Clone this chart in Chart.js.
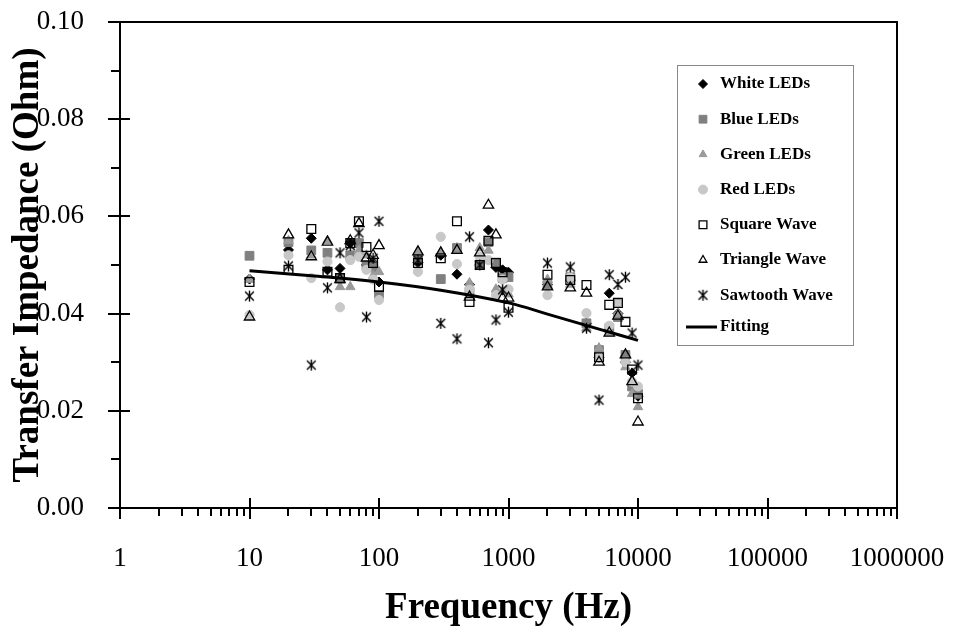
<!DOCTYPE html>
<html lang="en-US">
<head>
  <meta charset="utf-8">
  <title>Transfer impedance vs frequency</title>
  <script src="https://cdn.jsdelivr.net/npm/chart.js@4.4.0/dist/chart.umd.min.js"></script>
  <style>
    html, body { margin: 0; padding: 0; background: #fff; }
    .wrapper { width: 958px; height: 631px; }
  </style>
</head>
<body>
  <div class="wrapper">
    <canvas id="chart-0" width="958" height="631"></canvas>
  </div>

  <script>

    // measurement frequencies (Hz)
    let freqs = [10, 20, 30, 40, 50, 60, 70, 80, 90,
                 100, 200, 300, 400, 500, 600, 700, 800, 900,
                 1000, 2000, 3000, 4000, 5000, 6000, 7000, 8000, 9000, 10000];

    let whiteLeds = [0.0471, 0.0531, 0.0555, 0.0490, 0.0493, 0.0545, 0.0520, 0.0500, 0.0500,
                     0.0465, 0.0505, 0.0520, 0.0481, 0.0460, 0.0500, 0.0572, 0.0495, 0.0490,
                     0.0485, 0.0460, 0.0469, 0.0380, 0.0310, 0.0442, 0.0400, 0.0300, 0.0278, 0.0230];
    let blueLeds = [0.0519, 0.0547, 0.0530, 0.0525, 0.0473, 0.0520, 0.0545, 0.0500, 0.0495,
                    0.0438, 0.0514, 0.0471, 0.0535, 0.0445, 0.0500, 0.0547, 0.0505, 0.0473,
                    0.0475, 0.0459, 0.0475, 0.0380, 0.0325, 0.0370, 0.0393, 0.0315, 0.0250, 0.0235];
    let greenLeds = [0.0470, 0.0550, 0.0520, 0.0550, 0.0455, 0.0455, 0.0530, 0.0520, 0.0478,
                     0.0486, 0.0527, 0.0525, 0.0535, 0.0463, 0.0535, 0.0530, 0.0450, 0.0445,
                     0.0440, 0.0470, 0.0460, 0.0370, 0.0329, 0.0360, 0.0400, 0.0290, 0.0235, 0.0208];
    let redLeds = [0.0397, 0.0520, 0.0473, 0.0507, 0.0413, 0.0510, 0.0517, 0.0490, 0.0470,
                   0.0428, 0.0486, 0.0558, 0.0502, 0.0449, 0.0517, 0.0510, 0.0438, 0.0470,
                   0.0450, 0.0438, 0.0475, 0.0401, 0.0310, 0.0375, 0.0422, 0.0300, 0.0260, 0.0250];
    let squareWave = [0.0465, 0.0490, 0.0574, 0.0486, 0.0473, 0.0545, 0.0590, 0.0537, 0.0504,
                      0.0455, 0.0504, 0.0514, 0.0590, 0.0424, 0.0500, 0.0550, 0.0504, 0.0485,
                      0.0412, 0.0480, 0.0469, 0.0459, 0.0310, 0.0418, 0.0422, 0.0383, 0.0285, 0.0226];
    let triangleWave = [0.0393, 0.0562, 0.0517, 0.0547, 0.0470, 0.0550, 0.0585, 0.0514, 0.0520,
                        0.0540, 0.0527, 0.0525, 0.0530, 0.0434, 0.0525, 0.0623, 0.0562, 0.0432,
                        0.0432, 0.0455, 0.0453, 0.0442, 0.0300, 0.0360, 0.0395, 0.0315, 0.0260, 0.0177];
    let sawtoothWave = [0.0436, 0.0498, 0.0294, 0.0453, 0.0525, 0.0540, 0.0566, 0.0393, 0.0514,
                        0.0590, 0.0510, 0.0380, 0.0348, 0.0558, 0.0500, 0.0340, 0.0387, 0.0449,
                        0.0403, 0.0504, 0.0496, 0.0370, 0.0222, 0.0480, 0.0460, 0.0475, 0.0360, 0.0294];

    let fitFreqs = [10, 30, 100, 300, 1000, 2000, 5000, 10000];
    let fitValues = [0.0488, 0.0478, 0.0465, 0.0448, 0.0422, 0.0399, 0.0368, 0.0345];

    let xTicks = [1, 10, 100, 1000, 10000, 100000, 1000000];
    let yTicks = [0, 0.02, 0.04, 0.06, 0.08, 0.10];

    function pairs(xs, ys) {
      return xs.map((x, i) => ({x: x, y: ys[i]}));
    }

    // six-armed asterisk used for the sawtooth series
    function asterisk(size) {
      let c = document.createElement('canvas');
      c.width = size; c.height = size;
      let g = c.getContext('2d');
      let m = size / 2, r = size / 2 - 1;
      g.strokeStyle = '#000';
      g.lineWidth = 1.4;
      g.beginPath();
      g.moveTo(m - r * 0.8, m - r * 0.8); g.lineTo(m + r * 0.8, m + r * 0.8);
      g.moveTo(m + r * 0.8, m - r * 0.8); g.lineTo(m - r * 0.8, m + r * 0.8);
      g.moveTo(m, m - r); g.lineTo(m, m + r);
      g.stroke();
      return c;
    }

    let serif = 'Liberation Serif, Times New Roman, serif';

    let datasets = [
      {label: 'White LEDs', data: pairs(freqs, whiteLeds), pointStyle: 'rectRot', pointRadius: 5,
       backgroundColor: '#000', borderColor: '#000', borderWidth: 1, order: 7},
      {label: 'Blue LEDs', data: pairs(freqs, blueLeds), pointStyle: 'rect', pointRadius: 6.2,
       backgroundColor: '#808080', borderColor: '#808080', borderWidth: 1, order: 6},
      {label: 'Green LEDs', data: pairs(freqs, greenLeds), pointStyle: 'triangle', pointRadius: 5.5,
       backgroundColor: '#9a9a9a', borderColor: '#9a9a9a', borderWidth: 1, order: 5},
      {label: 'Red LEDs', data: pairs(freqs, redLeds), pointStyle: 'circle', pointRadius: 4.6,
       backgroundColor: '#c8c8c8', borderColor: '#c8c8c8', borderWidth: 1, order: 4},
      {label: 'Square Wave', data: pairs(freqs, squareWave), pointStyle: 'rect', pointRadius: 6.2,
       backgroundColor: 'rgba(255,255,255,0)', borderColor: '#000', borderWidth: 1.3, order: 3},
      {label: 'Triangle Wave', data: pairs(freqs, triangleWave), pointStyle: 'triangle', pointRadius: 6,
       backgroundColor: 'rgba(255,255,255,0)', borderColor: '#000', borderWidth: 1.3, order: 2},
      {label: 'Sawtooth Wave', data: pairs(freqs, sawtoothWave), pointStyle: asterisk(13), pointRadius: 6,
       backgroundColor: '#000', borderColor: '#000', order: 1},
      {label: 'Fitting', type: 'line', data: pairs(fitFreqs, fitValues), showLine: true,
       borderColor: '#000', borderWidth: 3, pointRadius: 0, fill: false, tension: 0.4, order: 0}
    ];

    // box, crossing major ticks and outside minor ticks like the original plot
    let framePlugin = {
      id: 'frame',
      afterDatasetsDraw(chart) {
        let ctx = chart.ctx, a = chart.chartArea;
        let xs = chart.scales.x, ys = chart.scales.y;
        ctx.save();
        ctx.strokeStyle = '#000';
        ctx.lineWidth = 2;
        ctx.strokeRect(a.left, a.top, a.right - a.left, a.bottom - a.top);
        ctx.beginPath();
        yTicks.forEach(v => {
          let p = Math.round(ys.getPixelForValue(v));
          ctx.moveTo(a.left - 12, p); ctx.lineTo(a.left + 10, p);
        });
        for (let i = 0; i < yTicks.length - 1; i++) {
          let p = Math.round(ys.getPixelForValue((yTicks[i] + yTicks[i + 1]) / 2));
          ctx.moveTo(a.left - 9, p); ctx.lineTo(a.left, p);
        }
        xTicks.forEach((v, i) => {
          let p = Math.round(xs.getPixelForValue(v));
          ctx.moveTo(p, a.bottom - 10); ctx.lineTo(p, a.bottom + 11);
          if (i < xTicks.length - 1) {
            for (let k = 2; k <= 9; k++) {
              let q = Math.round(xs.getPixelForValue(v * k));
              ctx.moveTo(q, a.bottom); ctx.lineTo(q, a.bottom + 8);
            }
          }
        });
        ctx.stroke();
        ctx.restore();
      }
    };

    // legend box drawn inside the plot area
    let legendPlugin = {
      id: 'boxLegend',
      afterDraw(chart) {
        let ctx = chart.ctx;
        let left = 677, top = 65, w = 176, h = 280, step = 35.2;
        ctx.save();
        ctx.fillStyle = '#fff';
        ctx.fillRect(left, top, w, h);
        ctx.strokeStyle = '#888';
        ctx.lineWidth = 1;
        ctx.strokeRect(left + 0.5, top + 0.5, w, h);
        ctx.font = 'bold 17px ' + serif;
        ctx.textBaseline = 'middle';
        chart.data.datasets.forEach((ds, i) => {
          let y = top + 19 + i * step;
          if (ds.label === 'Fitting') {
            y = top + 262;
            ctx.strokeStyle = '#000';
            ctx.lineWidth = 3;
            ctx.beginPath();
            ctx.moveTo(686, y); ctx.lineTo(717, y);
            ctx.stroke();
          } else {
            ctx.fillStyle = ds.backgroundColor;
            ctx.strokeStyle = ds.borderColor;
            ctx.lineWidth = ds.borderWidth || 1;
            Chart.helpers.drawPoint(ctx, {
              pointStyle: ds.pointStyle,
              radius: ds.pointStyle === 'rect' ? 5.5 : 4.5,
              borderWidth: ds.borderWidth || 1,
              rotation: 0
            }, 703, y);
          }
          ctx.fillStyle = '#000';
          ctx.fillText(ds.label, 720, y);
        });
        ctx.restore();
      }
    };

    let chart = new Chart('chart-0', {
      type: 'scatter',
      data: {datasets: datasets},
      plugins: [framePlugin, legendPlugin],
      options: {
        responsive: false,
        animation: false,
        layout: {padding: {left: 6, right: 61, top: 22, bottom: 0}},
        plugins: {
          legend: {display: false},
          tooltip: {enabled: false}
        },
        scales: {
          x: {
            type: 'logarithmic',
            min: 1,
            max: 1000000,
            afterBuildTicks(scale) {
              scale.ticks = xTicks.map(v => ({value: v, major: true}));
            },
            afterFit(scale) {
              scale.height = 123;
              scale.paddingLeft = 0;
              scale.paddingRight = 0;
            },
            grid: {display: false},
            border: {display: false},
            ticks: {
              autoSkip: false,
              maxRotation: 0,
              padding: 27,
              color: '#000',
              font: {family: serif, size: 27},
              callback: v => String(v)
            },
            title: {
              display: true,
              text: 'Frequency (Hz)',
              color: '#000',
              font: {family: serif, size: 37, weight: 'bold', lineHeight: 1.2},
              padding: 0
            }
          },
          y: {
            min: 0,
            max: 0.1,
            afterBuildTicks(scale) {
              scale.ticks = yTicks.map(v => ({value: v}));
            },
            afterFit(scale) {
              scale.width = 114;
              scale.paddingTop = 0;
              scale.paddingBottom = 0;
            },
            grid: {display: false},
            border: {display: false},
            ticks: {
              padding: 28,
              color: '#000',
              font: {family: serif, size: 27},
              callback: v => v.toFixed(2)
            },
            title: {
              display: true,
              text: 'Transfer Impedance (Ohm)',
              color: '#000',
              font: {family: serif, size: 37, weight: 'bold', lineHeight: 1.2},
              padding: 0
            }
          }
        }
      }
    });

  </script>
</body>
</html>
